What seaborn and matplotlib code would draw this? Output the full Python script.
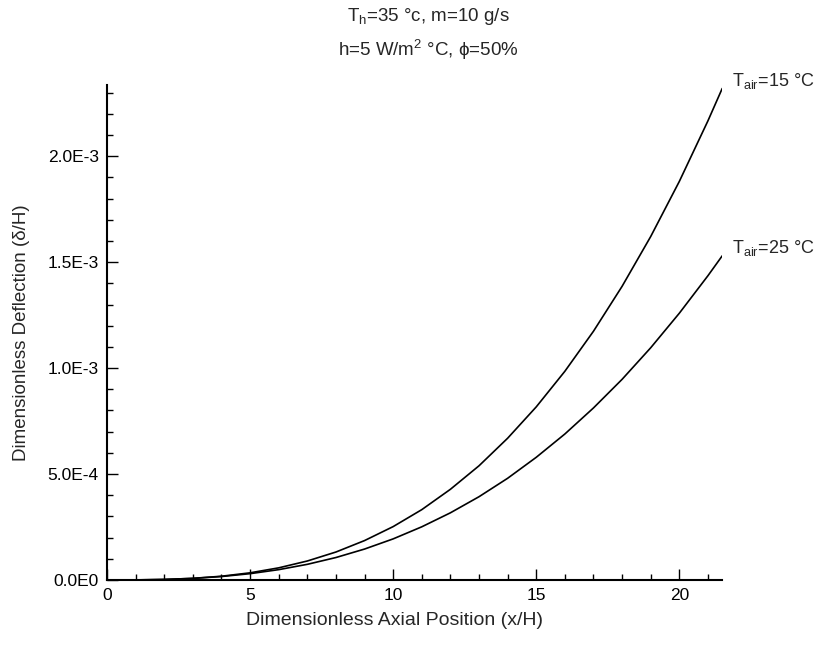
import matplotlib
matplotlib.use("Agg")
import matplotlib.pyplot as plt
import seaborn as sns
import pandas as pd
from matplotlib.ticker import MultipleLocator, FixedLocator, FixedFormatter

# Axial position (x/H) and dimensionless deflection (delta/H) for two air temperatures
x_pos = [0, 1, 2, 3, 4, 5, 6, 7, 8, 9, 10, 11, 12, 13, 14, 15, 16, 17, 18, 19, 20, 21, 21.5]
defl_t15 = [0.0, 3.2e-7, 2.4e-6, 7.7e-6, 1.77e-5, 3.38e-5, 5.73e-5, 8.96e-5, 1.32e-4, 1.86e-4,
            2.52e-4, 3.32e-4, 4.28e-4, 5.39e-4, 6.69e-4, 8.17e-4, 9.85e-4, 1.174e-3, 1.386e-3,
            1.621e-3, 1.881e-3, 2.167e-3, 2.32e-3]
defl_t25 = [0.0, 3.9e-7, 2.5e-6, 7.5e-6, 1.63e-5, 2.98e-5, 4.88e-5, 7.39e-5, 1.06e-4, 1.46e-4,
            1.94e-4, 2.51e-4, 3.17e-4, 3.93e-4, 4.80e-4, 5.79e-4, 6.89e-4, 8.12e-4, 9.47e-4,
            1.096e-3, 1.259e-3, 1.436e-3, 1.53e-3]

series_labels = ["T$_{air}$=15 °C", "T$_{air}$=25 °C"]
title_lines = ["T$_{h}$=35 °c, m=10 g/s", "h=5 W/m$^{2}$ °C, ϕ=50%"]

y_ticks = [0.0, 5.0e-4, 1.0e-3, 1.5e-3, 2.0e-3]
y_tick_labels = ["0.0E0", "5.0E-4", "1.0E-3", "1.5E-3", "2.0E-3"]
x_ticks = [0, 5, 10, 15, 20]

sns.set_theme(style="ticks")
plt.rcParams["font.family"] = ["Liberation Sans", "DejaVu Sans"]
plt.rcParams["mathtext.fontset"] = "custom"
plt.rcParams["mathtext.rm"] = "Liberation Sans"
plt.rcParams["mathtext.it"] = "Liberation Sans"
plt.rcParams["mathtext.default"] = "regular"

df = pd.concat([
    pd.DataFrame({"x": x_pos, "y": defl_t15, "case": series_labels[0]}),
    pd.DataFrame({"x": x_pos, "y": defl_t25, "case": series_labels[1]}),
])

fig = plt.figure(figsize=(8.17, 6.45), dpi=100)
ax = fig.add_axes([0.131, 0.1008, 0.753, 0.767])

sns.lineplot(data=df, x="x", y="y", hue="case", palette=["black", "black"],
             linewidth=1.2, legend=False, ax=ax)

ax.set_xlim(0, 21.5)
ax.set_ylim(0, 2.335e-3)

ax.xaxis.set_major_locator(FixedLocator(x_ticks))
ax.xaxis.set_minor_locator(MultipleLocator(1))
ax.yaxis.set_major_locator(FixedLocator(y_ticks))
ax.yaxis.set_major_formatter(FixedFormatter(y_tick_labels))
ax.yaxis.set_minor_locator(MultipleLocator(1e-4))

ax.tick_params(which="both", direction="in", colors="black", labelsize=12.5, width=1.0)
ax.tick_params(which="major", length=8, pad=6)
ax.tick_params(which="minor", length=4)

sns.despine(ax=ax)
for side in ("left", "bottom"):
    ax.spines[side].set_linewidth(1.5)
    ax.spines[side].set_color("black")

ax.set_xlabel("Dimensionless Axial Position (x/H)", fontsize=14)
ax.xaxis.set_label_coords(0.467, -0.065)
ax.set_ylabel("Dimensionless Deflection (δ/H)", fontsize=13.5)
ax.yaxis.set_label_coords(-0.125, 0.5)

# curve end labels
for ys, lab in ((defl_t15, series_labels[0]), (defl_t25, series_labels[1])):
    ax.annotate(lab, xy=(x_pos[-1], ys[-1]), xytext=(7, 2), textcoords="offset points",
                ha="left", va="baseline", fontsize=13, annotation_clip=False)

fig.text(0.524, 0.974, title_lines[0], ha="center", va="center", fontsize=13.5)
fig.text(0.524, 0.922, title_lines[1], ha="center", va="center", fontsize=13.5)

fig.savefig("out.png", dpi=100, facecolor="white")
